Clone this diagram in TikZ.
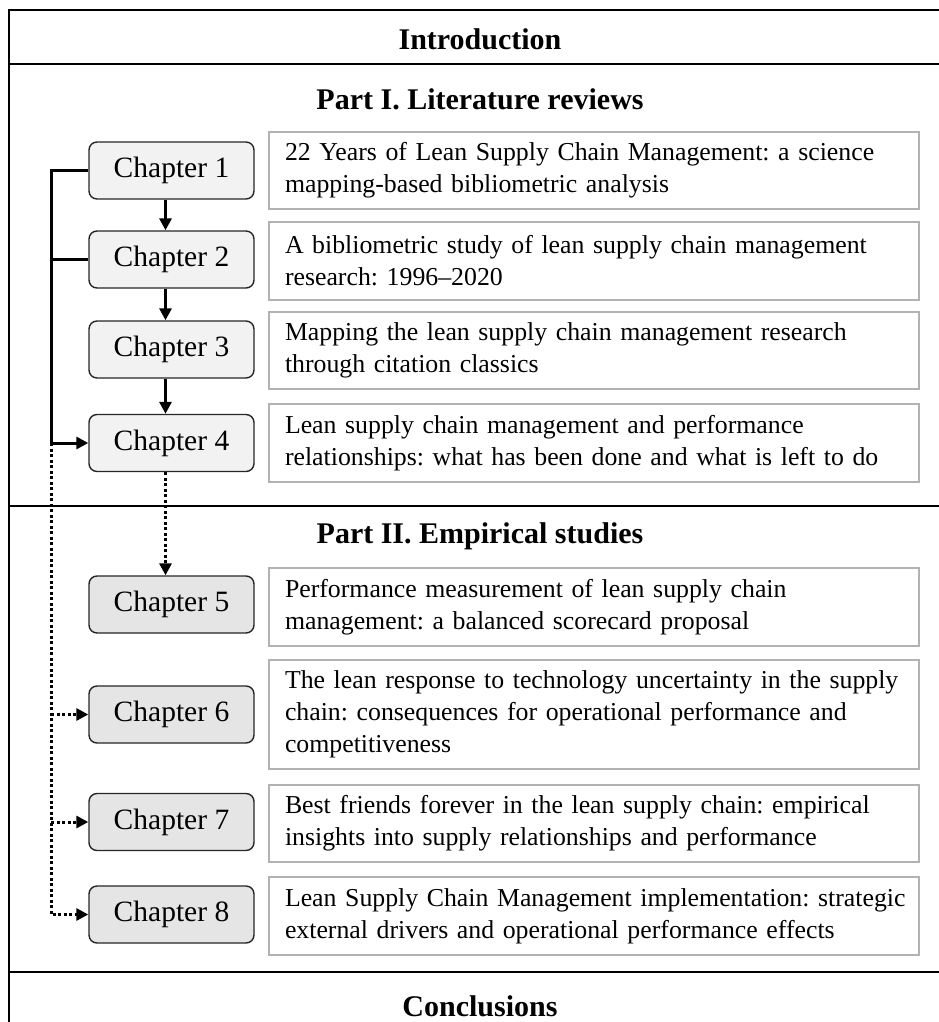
\documentclass[tikz,border=0pt]{standalone}
\usepackage{fontspec}
\setmainfont{Liberation Serif}
\usetikzlibrary{arrows.meta}
\frenchspacing
\hyphenpenalty=10000
% one unbreakable line of a chapter title
\newcommand\tline[1]{\mbox{#1}}
\begin{document}
\begin{tikzpicture}[x=1pt,y=-1pt,
  frame/.style={line width=2.8pt, black},
  heading/.style={font=\bfseries\fontsize{30}{36}\selectfont, anchor=base, inner sep=0},
  chapbox/.style={draw=black!85, line width=1.4pt, rounded corners=8pt,
    minimum width=165pt, minimum height=57pt, inner sep=0,
    font=\fontsize{29.5}{34}\selectfont},
  litchap/.style={chapbox, fill=black!5},
  empchap/.style={chapbox, fill=black!10},
  titlebox/.style={draw=black!30, line width=1.4pt, text width=618pt,
    inner xsep=16pt, inner ysep=0pt, align=left,
    font=\fontsize{25.8}{32}\selectfont},
  link/.style={line width=3pt},
  tip/.style={-{Triangle[length=12pt,width=12pt]}},
  dots/.style={dash pattern=on 3pt off 2.5pt}
]
\useasboundingbox (0,0) rectangle (939,1022);

% outer frame and section rules
\draw[frame, line join=miter] (945,10) -- (9,10) -- (9,1030);
\draw[frame] (9,64) -- (945,64);
\draw[frame] (9,506) -- (945,506);
\draw[frame] (9,972) -- (945,972);

% section headings
\node[heading] (intro) at (480,50) {Introduction};
\node[heading] (part1) at (480,110) {Part I. Literature reviews};
\node[heading] (part2) at (480,543) {Part II. Empirical studies};
\node[heading] (concl) at (480,1016) {Conclusions};

% chapters
\node[litchap] (ch1) at (171.5,170.5) {Chapter 1};
\node[litchap] (ch2) at (171.5,259.5) {Chapter 2};
\node[litchap] (ch3) at (171.5,349.5) {Chapter 3};
\node[litchap] (ch4) at (171.5,443) {Chapter 4};
\node[empchap] (ch5) at (171.5,604.5) {Chapter 5};
\node[empchap] (ch6) at (171.5,714.5) {Chapter 6};
\node[empchap] (ch7) at (171.5,822) {Chapter 7};
\node[empchap] (ch8) at (171.5,914.5) {Chapter 8};

% chapter titles
\node[titlebox, minimum height=77pt] (t1) at (594,170.5)
  {\tline{22 Years of Lean Supply Chain Management: a science}\\
   \tline{mapping-based bibliometric analysis}};
\node[titlebox, minimum height=78pt] (t2) at (594,261)
  {\tline{A bibliometric study of lean supply chain management}\\
   \tline{research: 1996--2020}};
\node[titlebox, minimum height=77pt] (t3) at (594,350.5)
  {\tline{Mapping the lean supply chain management research}\\
   \tline{through citation classics}};
\node[titlebox, minimum height=78pt] (t4) at (594,443)
  {\tline{Lean supply chain management and performance}\\
   \tline{relationships: what has been done and what is left to do}};
\node[titlebox, minimum height=78pt] (t5) at (594,607)
  {\tline{Performance measurement of lean supply chain}\\
   \tline{management: a balanced scorecard proposal}};
\node[titlebox, minimum height=109pt] (t6) at (594,714.5)
  {\tline{The lean response to technology uncertainty in the supply}\\
   \tline{chain: consequences for operational performance and}\\
   \tline{competitiveness}};
\node[titlebox, minimum height=77pt] (t7) at (594,823.5)
  {\tline{Best friends forever in the lean supply chain: empirical}\\
   \tline{insights into supply relationships and performance}};
\node[titlebox, minimum height=78pt] (t8) at (594,916)
  {\tline{Lean Supply Chain Management implementation: strategic}\\
   \tline{external drivers and operational performance effects}};

% left rail
\coordinate (rail) at (51,0);

% solid links between the review chapters
\draw[link, tip] ([xshift=-6pt]ch1.south) -- ([xshift=-6pt]ch2.north);
\draw[link, tip] ([xshift=-6pt]ch2.south) -- ([xshift=-6pt]ch3.north);
\draw[link, tip] ([xshift=-6pt]ch3.south) -- ([xshift=-6pt]ch4.north);
\draw[link, line join=miter] (ch2.west) -- (ch2.west -| rail);
\draw[link, tip, line join=miter] (ch1.west) -| (rail |- ch4.west) -- (ch4.west);

% dotted links into the empirical chapters
\draw[link, dots, tip] ([xshift=-6pt]ch4.south) -- ([xshift=-6pt]ch5.north);
\draw[link, dots, tip] (rail |- ch4.west) |- (ch8.west);
\draw[link, dots, tip] (ch6.west -| rail) -- (ch6.west);
\draw[link, dots, tip] (ch7.west -| rail) -- (ch7.west);
\end{tikzpicture}
\end{document}
